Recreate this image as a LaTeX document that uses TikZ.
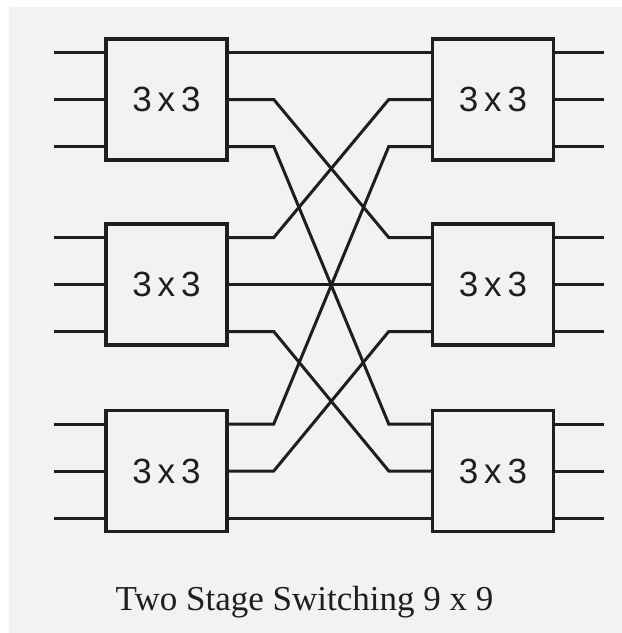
\documentclass[tikz,border=0pt]{standalone}
\usepackage{fontspec}
\setmainfont{Liberation Serif}
\newfontfamily\boxfont{Liberation Sans}
\usetikzlibrary{calc}
\definecolor{ink}{RGB}{30,30,30}
\definecolor{paper}{RGB}{242,242,242}
\tikzset{
  sw/.style={draw=ink,line width=3.5pt,fill=paper,minimum width=121pt,minimum height=121pt,
    inner sep=0pt,text=ink,font=\boxfont\fontsize{35}{35}\selectfont},
  wire/.style={draw=ink,line width=3pt},
}

\begin{document}
\begin{tikzpicture}[x=1pt,y=-1pt]
  \fill[white] (0,0) rectangle (622,633);
  \fill[paper] (9,7) rectangle (622,633);
  \useasboundingbox (0,0) rectangle (622,633);
  % two stages of 3x3 switches
  \foreach \r/\y in {1/99.5,2/284.5,3/471}{
    \node[sw] (L\r) at (166.5,\y) {3\,x\,3};
    \node[sw] (R\r) at (493,\y) {3\,x\,3};
  }
  % ports
  \foreach \r in {1,2,3}
    \foreach \p/\d in {1/47,2/0,3/-47}{
      \coordinate (L\r i\p) at ([yshift=\d pt]L\r.west);
      \coordinate (L\r o\p) at ([yshift=\d pt]L\r.east);
      \coordinate (R\r i\p) at ([yshift=\d pt]R\r.west);
      \coordinate (R\r o\p) at ([yshift=\d pt]R\r.east);
    }
  % inputs and outputs
  \foreach \r in {1,2,3}
    \foreach \p in {1,2,3}{
      \draw[wire] (L\r i\p) -- ++(-50,0);
      \draw[wire] (R\r o\p) -- ++(49,0);
    }
  % link: output p of left switch r to input r of right switch p
  \foreach \r in {1,2,3}
    \foreach \p in {1,2,3}
      \draw[wire] (L\r o\p) -- ++(45,0) -- ([xshift=-42pt]R\p i\r) -- (R\p i\r);
  \node[anchor=base,font=\fontsize{35}{35}\selectfont,text=ink] (cap) at (304.5,610) {Two Stage Switching 9 x 9};
\end{tikzpicture}
\end{document}
